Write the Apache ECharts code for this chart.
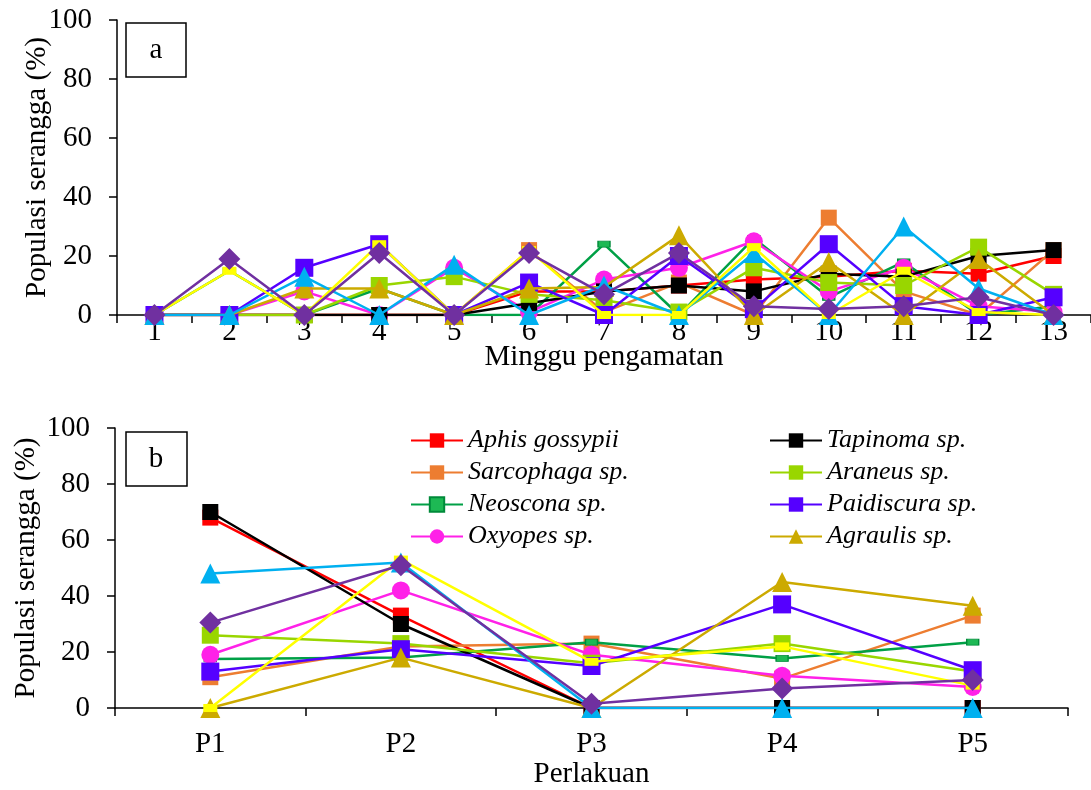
<!DOCTYPE html>
<html><head><meta charset="utf-8">
<script src="https://cdn.jsdelivr.net/npm/echarts@6/dist/echarts.min.js"></script>
<style>html,body{margin:0;padding:0;background:#fff}#c{width:1091px;height:790px}</style>
</head><body><div id="c"></div><script>
var weeks = ['1','2','3','4','5','6','7','8','9','10','11','12','13'];
var treatments = ['P1','P2','P3','P4','P5'];
var yTicks = [0,20,40,60,80,100];

var names = ['Aphis gossypii','Sarcophaga sp.','Neoscona sp.','Oxyopes sp.','Tapinoma sp.','Araneus sp.','Paidiscura sp.','Agraulis sp.','Serangga 9','Serangga 10','Serangga 11'];

// Panel a (weekly)
var aphisA      = [0,0,0,0,0,8,8,10,12,13,15,14,20];
var sarcophagaA = [0,0,0,0,0,22,1,11,0,33,8,0,22];
var neosconaA   = [0,15,0,9,0,0,24,0,26,6,18,0,3];
var oxyopesA    = [0,0,8,0,16,1,12,16,25,8,16,3,1];
var tapinomaA   = [0,0,0,0,0,4,8,10,8,14,13,20,22];
var araneusA    = [0,0,0,10,13,7,5,1,16,11,10,23,7];
var paidiscuraA = [0,0,16,24,0,11,0,20,2,24,3,0,6];
var agraulisA   = [0,0,9,9,0,9,9.5,27,0,18,0,19,0];
var cyanA       = [0,0,13,0,17,0,10,0,21,0,30,9,0];
var yellowA     = [0,15,0,24,0,22,0,0,23,0,15,1,0];
var purpleA     = [0,19,0,21,0,21,7,21,3,2,3,6,0];

// Panel b (treatments)
var aphisB      = [68,33,0,0,0];
var sarcophagaB = [11,22,23,10.5,33];
var neosconaB   = [17.5,18,23.5,17.7,23.5];
var oxyopesB    = [19,42,19,11.5,7.5];
var tapinomaB   = [70,30,0,0,0];
var araneusB    = [26,23,16,23,13];
var paidiscuraB = [13,21,15,37,13.5];
var agraulisB   = [0,18,0,45,36.5];
var cyanB       = [48,52,0,0,0];
var yellowB     = [0,53,16.5,22,8];
var purpleB     = [30.5,51,1.5,7,10];

var styles = [
  {c:'#FF0000', s:'rect', z:16},
  {c:'#ED7D31', s:'rect', z:16},
  {c:'#00A046', s:'rect', z:[12,6], fill:'#1DB954', border:'#008A3A'},
  {c:'#FF21E8', s:'circle', z:18},
  {c:'#000000', s:'rect', z:16},
  {c:'#99D600', s:'rect', z:17},
  {c:'#5500FF', s:'rect', z:18},
  {c:'#CCAA00', s:'triangle', z:20},
  {c:'#00B0F0', s:'triangle', z:20},
  {c:'#FFFF00', s:'rect', z:[14,8]},
  {c:'#7030A0', s:'diamond', z:22}
];
var dataA = [aphisA,sarcophagaA,neosconaA,oxyopesA,tapinomaA,araneusA,paidiscuraA,agraulisA,cyanA,yellowA,purpleA];
var dataB = [aphisB,sarcophagaB,neosconaB,oxyopesB,tapinomaB,araneusB,paidiscuraB,agraulisB,cyanB,yellowB,purpleB];

var FONT = 'Liberation Serif';
var series = [];
function mk(i, data, ax){
  var st = styles[i];
  return {
    name: names[i], type:'line', data:data, xAxisIndex:ax, yAxisIndex:ax,
    symbol: st.s, symbolSize: st.z, showAllSymbol:true,
    lineStyle:{color:st.c, width:2.5},
    itemStyle:{color: st.fill||st.c, borderColor: st.border||st.c, borderWidth: st.border?1:0},
    emphasis:{disabled:true}, z: 2+i
  };
}
for (var i=0;i<names.length;i++){ series.push(mk(i,dataA[i],0)); }
for (var i=0;i<names.length;i++){ series.push(mk(i,dataB[i],1)); }

var axisCommon = {
  axisLine:{show:true, lineStyle:{color:'#000', width:1.5}},
  axisTick:{show:true, lineStyle:{color:'#000', width:1.5}, length:8},
  splitLine:{show:false}
};
function yAx(gi, gap){
  return Object.assign({}, axisCommon, {
    type:'value', gridIndex:gi, min:yTicks[0], max:yTicks[yTicks.length-1], interval:yTicks[1]-yTicks[0],
    name:'Populasi serangga (%)', nameLocation:'middle', nameGap:gap, nameMoveOverlap:false,
    nameTextStyle:{fontFamily:FONT, fontSize:29, color:'#000'},
    axisLabel:{fontFamily:FONT, fontSize:29, color:'#000', margin:25}
  });
}
function xAx(gi, cats, name, gap, lm){
  return Object.assign({}, axisCommon, {
    type:'category', gridIndex:gi, data:cats, boundaryGap:true,
    name:name, nameLocation:'middle', nameGap:gap, nameMoveOverlap:false,
    nameTextStyle:{fontFamily:FONT, fontSize:29, color:'#000'},
    axisLabel:{fontFamily:FONT, fontSize:29, color:'#000', margin:lm, interval:0}
  });
}

var legendNames1 = [names[0],names[1],names[2],names[3]];
var legendNames2 = [names[4],names[5],names[6],names[7]];
function lg(data, left){
  return {data:data, orient:'vertical', left:left, top:422, itemWidth:52, itemHeight:18, itemGap:5,
    textStyle:{fontFamily:FONT, fontStyle:'italic', fontSize:26, color:'#000', lineHeight:27}, selectedMode:false};
}

var chart = echarts.init(document.getElementById('c'), null, {renderer:'canvas'});
chart.setOption({
  animation:false,
  backgroundColor:'#fff',
  grid:[
    {left:117, top:20, width:974, height:295},
    {left:115, top:428, width:953, height:281}
  ],
  xAxis:[ xAx(0, weeks, 'Minggu pengamatan', 28, 3), xAx(1, treatments, 'Perlakuan', 52, 22) ],
  yAxis:[ yAx(0, 65), yAx(1, 74) ],
  legend:[ lg(legendNames1, 405), lg(legendNames2, 764) ],
  graphic:[
    {type:'rect', shape:{x:126, y:23, width:60, height:54}, style:{fill:'#fff', stroke:'#000', lineWidth:1.5}, z:100},
    {type:'text', x:156, y:50, style:{text:'a', font:'29px "Liberation Serif"', fill:'#000', align:'center', verticalAlign:'middle'}, z:101},
    {type:'rect', shape:{x:126, y:432, width:61, height:54}, style:{fill:'#fff', stroke:'#000', lineWidth:1.5}, z:100},
    {type:'text', x:156, y:459, style:{text:'b', font:'29px "Liberation Serif"', fill:'#000', align:'center', verticalAlign:'middle'}, z:101}
  ],
  series: series
});
</script></body></html>
